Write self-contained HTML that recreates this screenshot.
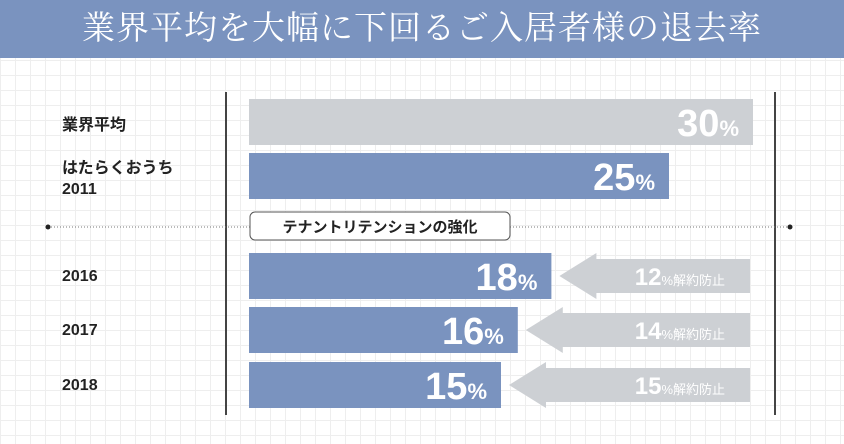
<!DOCTYPE html>
<html><head><meta charset="utf-8"><style>
body{margin:0;width:844px;height:444px;overflow:hidden;background:#fff;font-family:"Liberation Sans","Noto Sans CJK JP",sans-serif}
#wrap{position:relative;width:844px;height:444px;background-color:#fff;background-image:linear-gradient(#eeeeee 1px,transparent 1px),linear-gradient(90deg,#eeeeee 1px,transparent 1px);background-size:15px 15px}
#hdr{position:absolute;left:0;top:0;width:844px;height:58px;background:#7a93bf;color:#fff;font-family:"Liberation Serif","Noto Serif CJK SC",serif;font-size:33px;text-align:center;line-height:58px;letter-spacing:1px}
.lbl{position:absolute;left:62px;font-weight:bold;font-size:16px;color:#222;line-height:21px}
</style></head><body>
<div id="wrap">
<div id="hdr">業界平均を大幅に下回るご入居者様の退去率</div>
<div class="lbl" style="top:115px">業界平均</div>
<div class="lbl" style="top:158px">はたらくおうち<br>2011</div>
<div class="lbl" style="top:266px">2016</div>
<div class="lbl" style="top:320px">2017</div>
<div class="lbl" style="top:375px">2018</div>
<svg id="svg" width="844" height="444" style="position:absolute;left:0;top:0"></svg>
</div>
<script>
const categories=["業界平均","2011","2016","2017","2018"];
const values=[30,25,18,16,15];
const prevented=[null,null,12,14,15];
const barTops=[99,153,253,307,362];
const NS="http://www.w3.org/2000/svg";
const svg=document.getElementById('svg');
function x(v){return 249+v*16.8;}
function mk(t,a){const e=document.createElementNS(NS,t);for(const k in a)e.setAttribute(k,a[k]);svg.appendChild(e);return e;}
let l;
l=mk('line',{x1:226,y1:92,x2:226,y2:415,stroke:'#444','stroke-width':2});


l=mk('line',{x1:775,y1:92,x2:775,y2:415,stroke:'#444','stroke-width':2});


l=mk('line',{x1:48,y1:227,x2:790,y2:227,stroke:'#777','stroke-width':1,'stroke-dasharray':'1 2'});


mk('circle',{cx:48,cy:227,r:2.5,fill:'#222'});
mk('circle',{cx:790,cy:227,r:2.5,fill:'#222'});
l=mk('rect',{x:250,y:212,width:260,height:28,rx:5,fill:'#fff',stroke:'#555','stroke-width':1});


l=mk('text',{x:380,y:232,'text-anchor':'middle','font-size':15,'font-weight':'bold',fill:'#222'});
l.textContent='テナントリテンションの強化';


values.forEach((v,i)=>{
  const y=barTops[i],h=46,xe=x(v);
  const r=mk('rect',{x:249,y:y,width:xe-249,height:h,fill:i==0?'#cdd0d4':'#7a93bf'});
  
  
  const t=mk('text',{x:xe-14,y:y+37,'text-anchor':'end',fill:'#fff','font-weight':'bold','font-size':38});
  t.innerHTML=v+'<tspan font-size="22">%</tspan>';
  
  
  if(prevented[i]!=null){
    const tip=xe+8,hb=tip+37,cy=y+23;
    const a=mk('polygon',{points:`${tip},${cy} ${hb},${y} ${hb},${y+6} 750,${y+6} 750,${y+40} ${hb},${y+40} ${hb},${y+46}`,fill:'#cdd0d4'});
    
    
    const at=mk('text',{x:725,y:cy+9,'text-anchor':'end',fill:'#fff','font-weight':'bold','font-size':24});
    at.innerHTML=prevented[i]+'<tspan font-size="13" font-weight="normal">%解約防止</tspan>';
    
    
  }
});
</script>
</body></html>
